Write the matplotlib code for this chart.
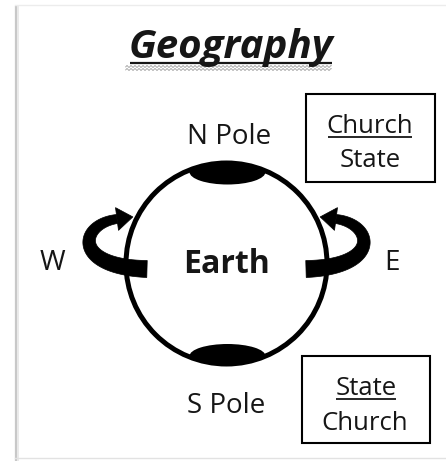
import numpy as np
import matplotlib
matplotlib.use("Agg")
import matplotlib.pyplot as plt
from matplotlib.patches import Circle, Ellipse, Rectangle, Polygon

W_PX, H_PX = 446, 461
FONT = ["Open Sans", "DejaVu Sans"]

title = "Geography"
north_label = "N Pole"
south_label = "S Pole"
west_label = "W"
east_label = "E"
center_label = "Earth"
box_top_lines = ["Church", "State"]
box_bottom_lines = ["State", "Church"]

fig = plt.figure(figsize=(W_PX / 100, H_PX / 100), dpi=100)
ax = fig.add_axes([0, 0, 1, 1])
ax.set_xlim(0, W_PX)
ax.set_ylim(H_PX, 0)
ax.axis("off")

# page shadow edges
ax.plot([15.5, 15.5], [6, 461], color="#c8c8c8", lw=1.6, solid_capstyle="butt")
ax.plot([17.5, 17.5], [6, 461], color="#e6e6e6", lw=1.2, solid_capstyle="butt")
ax.plot([15, 446], [5.5, 5.5], color="#ececec", lw=1.0)
ax.plot([15, 446], [457.5, 457.5], color="#e2e2e2", lw=1.0)

# Earth circle
cx, cy, r = 226.5, 263.5, 100.5
lw_px = 5.0
circ = Circle((cx, cy), r, fill=False, ec="black", lw=lw_px * 0.72, zorder=5)
ax.add_patch(circ)

for ey, eh in [(172, 25), (356, 24)]:
    e = Ellipse((cx + 1, ey), 76, eh, fc="black", ec="none", zorder=4)
    ax.add_patch(e)
    e.set_clip_path(Circle((cx, cy), r + 1, transform=ax.transData))


def bez(P, t):
    P = np.asarray(P, float)
    t = t[:, None]
    return ((1 - t) ** 3) * P[0] + 3 * ((1 - t) ** 2) * t * P[1] + 3 * (1 - t) * t ** 2 * P[2] + t ** 3 * P[3]


def bez_d(P, t):
    P = np.asarray(P, float)
    t = t[:, None]
    return 3 * ((1 - t) ** 2) * (P[1] - P[0]) + 6 * (1 - t) * t * (P[2] - P[1]) + 3 * t ** 2 * (P[3] - P[2])


def arrow(P, hw0, hw1, head_w, head_l):
    t = np.linspace(0, 1, 80)
    pts = bez(P, t)
    d = bez_d(P, t)
    d = d / np.linalg.norm(d, axis=1)[:, None]
    n = np.stack([-d[:, 1], d[:, 0]], axis=1)
    hw = hw0 + (hw1 - hw0) * t
    a = pts + n * hw[:, None]
    b = pts - n * hw[:, None]
    body = np.vstack([a, b[::-1]])
    ax.add_patch(Polygon(body, closed=True, fc="black", ec="black", lw=0.5, zorder=3))
    end, td, tn = pts[-1], d[-1], n[-1]
    head = [end + tn * head_w, end + td * head_l, end - tn * head_w]
    ax.add_patch(Polygon(head, closed=True, fc="black", ec="black", lw=0.5, zorder=3))


P_left = [(147, 269), (72, 267), (79, 224), (117, 219)]
arrow(P_left, 8.5, 4.5, 11.5, 16)
P_right = [(2 * cx - x, y) for x, y in P_left]
arrow(P_right, 8.5, 4.5, 11.5, 16)

# texts
TXT = "#161616"
t_title = ax.text(231, 58, title, ha="center", va="baseline", fontsize=29,
                  fontweight="bold", fontstyle="italic", family=FONT, color=TXT)
ax.text(229, 144, north_label, ha="center", va="baseline", fontsize=20, family=FONT, color=TXT)
ax.text(226, 413, south_label, ha="center", va="baseline", fontsize=20, family=FONT, color=TXT)
ax.text(52, 270, west_label, ha="center", va="baseline", fontsize=20, family=FONT, color=TXT)
ax.text(392, 270, east_label, ha="center", va="baseline", fontsize=20, family=FONT, color=TXT)
ax.text(227, 273, center_label, ha="center", va="baseline", fontsize=23, fontweight="bold",
        family=FONT, color=TXT)

ax.add_patch(Rectangle((306, 94), 129, 88, fill=False, ec="black", lw=1.5))
ax.add_patch(Rectangle((302, 356), 128, 87, fill=False, ec="black", lw=1.5))

t_ch1 = ax.text(370, 133, box_top_lines[0], ha="center", va="baseline", fontsize=18.5,
                family=FONT, color=TXT)
ax.text(370, 167, box_top_lines[1], ha="center", va="baseline", fontsize=18.5,
        family=FONT, color=TXT)
t_st2 = ax.text(366, 395, box_bottom_lines[0], ha="center", va="baseline", fontsize=18.5,
                family=FONT, color=TXT)
ax.text(365, 430, box_bottom_lines[1], ha="center", va="baseline", fontsize=18.5,
        family=FONT, color=TXT)

fig.canvas.draw()
inv = ax.transData.inverted()


def underline(t, y, lw):
    bb = t.get_window_extent()
    x0, _ = inv.transform((bb.x0, bb.y0))
    x1, _ = inv.transform((bb.x1, bb.y0))
    ax.plot([x0 + 1, x1 - 1], [y, y], color=TXT, lw=lw, solid_capstyle="butt")
    return x0, x1


x0, x1 = underline(t_title, 63, 1.6)
xs = np.linspace(x0 - 3, x1 - 2, 400)
for yy in (66.5, 69.5):
    ax.plot(xs, yy + 0.9 * np.sin(xs * 2 * np.pi / 4.0), color="#9a9a9a", lw=0.6)
underline(t_ch1, 137, 1.3)
underline(t_st2, 398.5, 1.3)

fig.savefig("out.png", dpi=100, facecolor="white")
